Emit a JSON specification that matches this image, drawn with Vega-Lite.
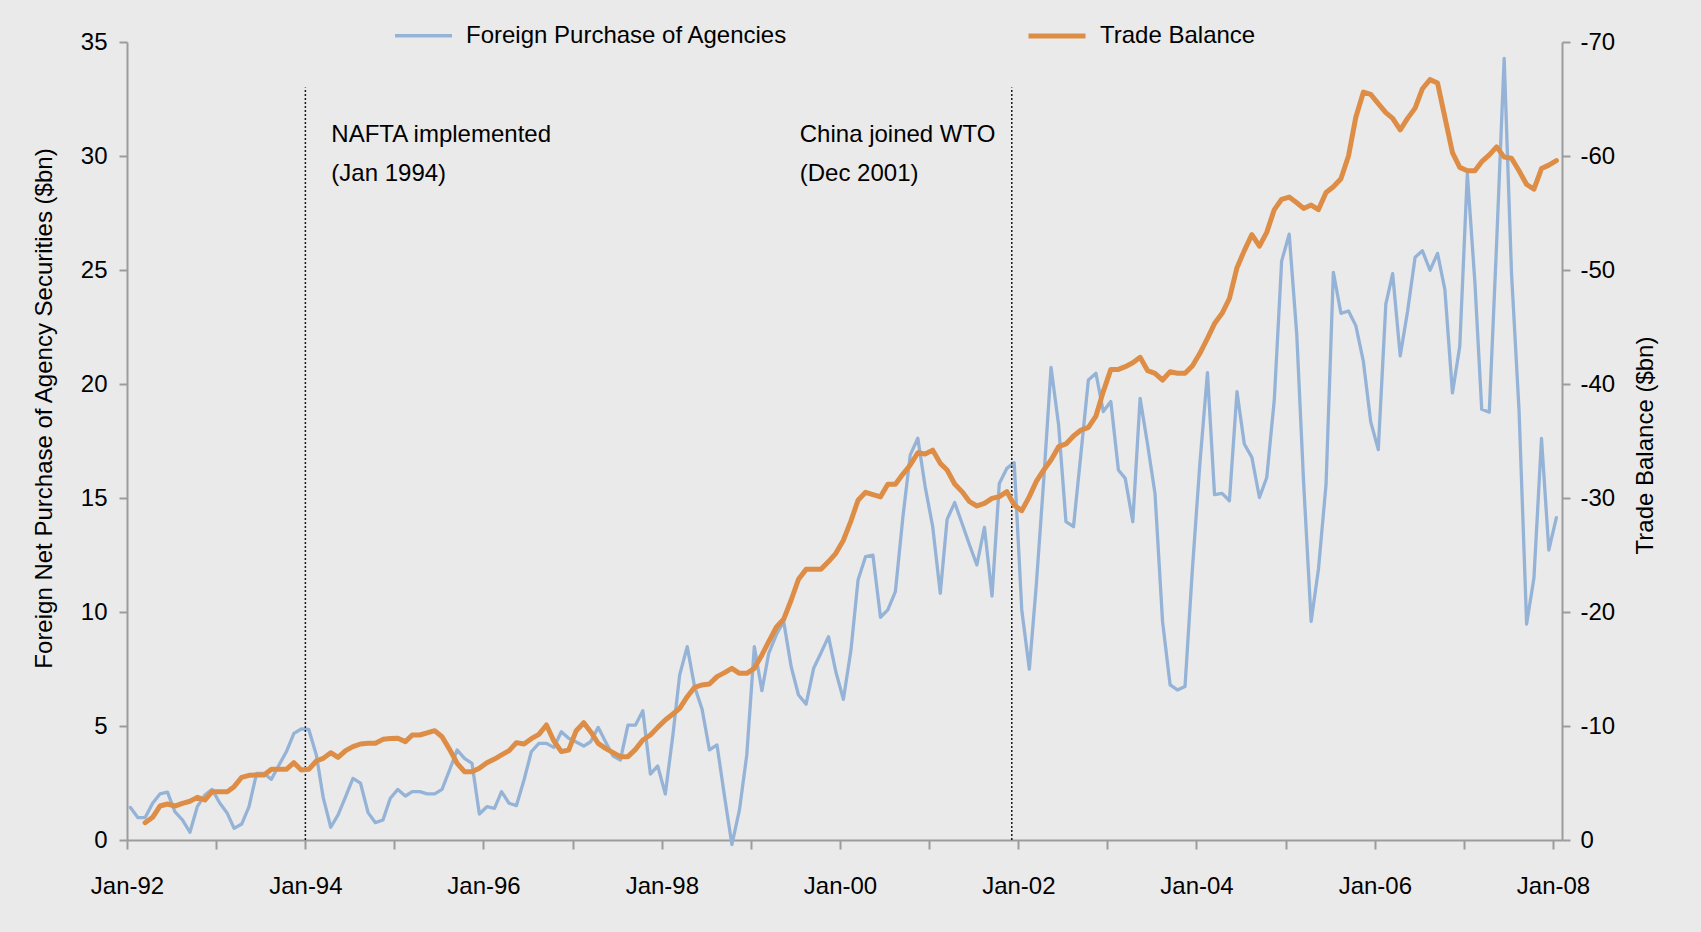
{
"$schema":"https://vega.github.io/schema/vega-lite/v6.json",
"width":1435,"height":798,
"autosize":{"type":"none"},
"padding":{"left":127,"top":42,"right":139,"bottom":92},
"background":"#EAEAEA",
"config":{
 "font":"Liberation Sans",
 "view":{"stroke":null},
 "axis":{"grid":false,"labelFont":"Liberation Sans","labelFontSize":24,"labelColor":"#000000","titleFont":"Liberation Sans","titleFontSize":24,"titleFontWeight":"normal","titleColor":"#000000","domainColor":"#9C9C9C","domainWidth":2,"tickColor":"#9C9C9C","tickWidth":2},
 "text":{"font":"Liberation Sans","fontSize":24,"color":"#000000"}
},
"data":{"values":[
{"date":"1992-01-15","agencies":1.43},
{"date":"1992-02-15","agencies":0.98},
{"date":"1992-03-15","agencies":0.98,"trade":-1.52},
{"date":"1992-04-15","agencies":1.61,"trade":-1.99},
{"date":"1992-05-15","agencies":2.02,"trade":-2.98},
{"date":"1992-06-15","agencies":2.1,"trade":-3.16},
{"date":"1992-07-15","agencies":1.24,"trade":-2.98},
{"date":"1992-08-15","agencies":0.88,"trade":-3.22},
{"date":"1992-09-15","agencies":0.34,"trade":-3.4},
{"date":"1992-10-15","agencies":1.46,"trade":-3.74},
{"date":"1992-11-15","agencies":1.97,"trade":-3.51},
{"date":"1992-12-15","agencies":2.22,"trade":-4.24},
{"date":"1993-01-15","agencies":1.62,"trade":-4.24},
{"date":"1993-02-15","agencies":1.17,"trade":-4.24},
{"date":"1993-03-15","agencies":0.51,"trade":-4.68},
{"date":"1993-04-15","agencies":0.7,"trade":-5.5},
{"date":"1993-05-15","agencies":1.46,"trade":-5.67},
{"date":"1993-06-15","agencies":2.92,"trade":-5.7},
{"date":"1993-07-15","agencies":2.92,"trade":-5.7},
{"date":"1993-08-15","agencies":2.66,"trade":-6.2},
{"date":"1993-09-15","agencies":3.29,"trade":-6.2},
{"date":"1993-10-15","agencies":3.87,"trade":-6.2},
{"date":"1993-11-15","agencies":4.68,"trade":-6.78},
{"date":"1993-12-15","agencies":4.87,"trade":-6.14},
{"date":"1994-01-15","agencies":4.85,"trade":-6.2},
{"date":"1994-02-15","agencies":3.73,"trade":-6.93},
{"date":"1994-03-15","agencies":1.87,"trade":-7.16},
{"date":"1994-04-15","agencies":0.56,"trade":-7.66},
{"date":"1994-05-15","agencies":1.1,"trade":-7.25},
{"date":"1994-06-15","agencies":1.9,"trade":-7.84},
{"date":"1994-07-15","agencies":2.7,"trade":-8.19},
{"date":"1994-08-15","agencies":2.49,"trade":-8.42},
{"date":"1994-09-15","agencies":1.2,"trade":-8.48},
{"date":"1994-10-15","agencies":0.76,"trade":-8.48},
{"date":"1994-11-15","agencies":0.88,"trade":-8.83},
{"date":"1994-12-15","agencies":1.83,"trade":-8.9},
{"date":"1995-01-15","agencies":2.22,"trade":-8.92},
{"date":"1995-02-15","agencies":1.93,"trade":-8.63},
{"date":"1995-03-15","agencies":2.12,"trade":-9.21},
{"date":"1995-04-15","agencies":2.12,"trade":-9.21},
{"date":"1995-05-15","agencies":2.02,"trade":-9.4},
{"date":"1995-06-15","agencies":2.02,"trade":-9.59},
{"date":"1995-07-15","agencies":2.22,"trade":-9.06},
{"date":"1995-08-15","agencies":3.07,"trade":-7.95},
{"date":"1995-09-15","agencies":3.95,"trade":-6.73},
{"date":"1995-10-15","agencies":3.58,"trade":-5.99},
{"date":"1995-11-15","agencies":3.36,"trade":-5.99},
{"date":"1995-12-15","agencies":1.14,"trade":-6.3},
{"date":"1996-01-15","agencies":1.46,"trade":-6.78},
{"date":"1996-02-15","agencies":1.39,"trade":-7.1},
{"date":"1996-03-15","agencies":2.12,"trade":-7.46},
{"date":"1996-04-15","agencies":1.61,"trade":-7.84},
{"date":"1996-05-15","agencies":1.51,"trade":-8.54},
{"date":"1996-06-15","agencies":2.63,"trade":-8.42},
{"date":"1996-07-15","agencies":3.87,"trade":-8.89},
{"date":"1996-08-15","agencies":4.24,"trade":-9.27},
{"date":"1996-09-15","agencies":4.24,"trade":-10.09},
{"date":"1996-10-15","agencies":4.06,"trade":-8.71},
{"date":"1996-11-15","agencies":4.75,"trade":-7.75},
{"date":"1996-12-15","agencies":4.46,"trade":-7.89},
{"date":"1997-01-15","agencies":4.3,"trade":-9.59},
{"date":"1997-02-15","agencies":4.12,"trade":-10.29},
{"date":"1997-03-15","agencies":4.31,"trade":-9.5},
{"date":"1997-04-15","agencies":4.94,"trade":-8.48},
{"date":"1997-05-15","agencies":4.31,"trade":-8.04},
{"date":"1997-06-15","agencies":3.68,"trade":-7.66},
{"date":"1997-07-15","agencies":3.51,"trade":-7.31},
{"date":"1997-08-15","agencies":5.04,"trade":-7.31},
{"date":"1997-09-15","agencies":5.04,"trade":-7.95},
{"date":"1997-10-15","agencies":5.67,"trade":-8.77},
{"date":"1997-11-15","agencies":2.89,"trade":-9.21},
{"date":"1997-12-15","agencies":3.25,"trade":-9.88},
{"date":"1998-01-15","agencies":2.02,"trade":-10.53},
{"date":"1998-02-15","agencies":4.58,"trade":-11.05},
{"date":"1998-03-15","agencies":7.24,"trade":-11.55},
{"date":"1998-04-15","agencies":8.48,"trade":-12.57},
{"date":"1998-05-15","agencies":6.73,"trade":-13.39},
{"date":"1998-06-15","agencies":5.73,"trade":-13.6},
{"date":"1998-07-15","agencies":3.95,"trade":-13.68},
{"date":"1998-08-15","agencies":4.17,"trade":-14.33},
{"date":"1998-09-15","agencies":1.9,"trade":-14.68},
{"date":"1998-10-15","agencies":-0.2,"trade":-15.06},
{"date":"1998-11-15","agencies":1.32,"trade":-14.62},
{"date":"1998-12-15","agencies":3.73,"trade":-14.62},
{"date":"1999-01-15","agencies":8.48,"trade":-15.06},
{"date":"1999-02-15","agencies":6.55,"trade":-16.23},
{"date":"1999-03-15","agencies":8.19,"trade":-17.4},
{"date":"1999-04-15","agencies":9.0,"trade":-18.66},
{"date":"1999-05-15","agencies":9.6,"trade":-19.36},
{"date":"1999-06-15","agencies":7.6,"trade":-21.05},
{"date":"1999-07-15","agencies":6.36,"trade":-22.87},
{"date":"1999-08-15","agencies":5.96,"trade":-23.74},
{"date":"1999-09-15","agencies":7.53,"trade":-23.74},
{"date":"1999-10-15","agencies":8.2,"trade":-23.74},
{"date":"1999-11-15","agencies":8.92,"trade":-24.42},
{"date":"1999-12-15","agencies":7.38,"trade":-25.15},
{"date":"2000-01-15","agencies":6.17,"trade":-26.3},
{"date":"2000-02-15","agencies":8.33,"trade":-28.0},
{"date":"2000-03-15","agencies":11.4,"trade":-29.8},
{"date":"2000-04-15","agencies":12.43,"trade":-30.5},
{"date":"2000-05-15","agencies":12.49,"trade":-30.3},
{"date":"2000-06-15","agencies":9.77,"trade":-30.1},
{"date":"2000-07-15","agencies":10.09,"trade":-31.2},
{"date":"2000-08-15","agencies":10.89,"trade":-31.2},
{"date":"2000-09-15","agencies":14.18,"trade":-32.1},
{"date":"2000-10-15","agencies":16.89,"trade":-32.9},
{"date":"2000-11-15","agencies":17.62,"trade":-33.97},
{"date":"2000-12-15","agencies":15.5,"trade":-33.86},
{"date":"2001-01-15","agencies":13.74,"trade":-34.2},
{"date":"2001-02-15","agencies":10.82,"trade":-33.04},
{"date":"2001-03-15","agencies":14.06,"trade":-32.46},
{"date":"2001-04-15","agencies":14.8,"trade":-31.23},
{"date":"2001-05-15","agencies":13.89,"trade":-30.56},
{"date":"2001-06-15","agencies":12.94,"trade":-29.68},
{"date":"2001-07-15","agencies":12.06,"trade":-29.3},
{"date":"2001-08-15","agencies":13.71,"trade":-29.53},
{"date":"2001-09-15","agencies":10.7,"trade":-29.97},
{"date":"2001-10-15","agencies":15.64,"trade":-30.12},
{"date":"2001-11-15","agencies":16.3,"trade":-30.56},
{"date":"2001-12-15","agencies":16.55,"trade":-29.39},
{"date":"2002-01-15","agencies":10.09,"trade":-28.89},
{"date":"2002-02-15","agencies":7.49,"trade":-30.12},
{"date":"2002-03-15","agencies":11.11,"trade":-31.43},
{"date":"2002-04-15","agencies":15.79,"trade":-32.46},
{"date":"2002-05-15","agencies":20.73,"trade":-33.33},
{"date":"2002-06-15","agencies":18.2,"trade":-34.5},
{"date":"2002-07-15","agencies":13.96,"trade":-34.74},
{"date":"2002-08-15","agencies":13.74,"trade":-35.44},
{"date":"2002-09-15","agencies":17.0,"trade":-35.96},
{"date":"2002-10-15","agencies":20.18,"trade":-36.2},
{"date":"2002-11-15","agencies":20.47,"trade":-37.19},
{"date":"2002-12-15","agencies":18.79,"trade":-39.33},
{"date":"2003-01-15","agencies":19.23,"trade":-41.28},
{"date":"2003-02-15","agencies":16.23,"trade":-41.28},
{"date":"2003-03-15","agencies":15.86,"trade":-41.52},
{"date":"2003-04-15","agencies":13.96,"trade":-41.87},
{"date":"2003-05-15","agencies":19.37,"trade":-42.34},
{"date":"2003-06-15","agencies":17.32,"trade":-41.17},
{"date":"2003-07-15","agencies":15.2,"trade":-40.94},
{"date":"2003-08-15","agencies":9.58,"trade":-40.35},
{"date":"2003-09-15","agencies":6.8,"trade":-41.08},
{"date":"2003-10-15","agencies":6.58,"trade":-40.94},
{"date":"2003-11-15","agencies":6.73,"trade":-40.94},
{"date":"2003-12-15","agencies":11.84,"trade":-41.58},
{"date":"2004-01-15","agencies":16.52,"trade":-42.69},
{"date":"2004-02-15","agencies":20.5,"trade":-44.0},
{"date":"2004-03-15","agencies":15.15,"trade":-45.3},
{"date":"2004-04-15","agencies":15.2,"trade":-46.2},
{"date":"2004-05-15","agencies":14.88,"trade":-47.5},
{"date":"2004-06-15","agencies":19.66,"trade":-50.2},
{"date":"2004-07-15","agencies":17.37,"trade":-51.7},
{"date":"2004-08-15","agencies":16.78,"trade":-53.1},
{"date":"2004-09-15","agencies":15.02,"trade":-52.1},
{"date":"2004-10-15","agencies":15.9,"trade":-53.3},
{"date":"2004-11-15","agencies":19.32,"trade":-55.3},
{"date":"2004-12-15","agencies":25.39,"trade":-56.2},
{"date":"2005-01-15","agencies":26.57,"trade":-56.4},
{"date":"2005-02-15","agencies":22.17,"trade":-55.9},
{"date":"2005-03-15","agencies":15.7,"trade":-55.4},
{"date":"2005-04-15","agencies":9.59,"trade":-55.7},
{"date":"2005-05-15","agencies":11.89,"trade":-55.3},
{"date":"2005-06-15","agencies":15.6,"trade":-56.8},
{"date":"2005-07-15","agencies":24.9,"trade":-57.3},
{"date":"2005-08-15","agencies":23.1,"trade":-58.0},
{"date":"2005-09-15","agencies":23.2,"trade":-60.0},
{"date":"2005-10-15","agencies":22.56,"trade":-63.4},
{"date":"2005-11-15","agencies":20.99,"trade":-65.6},
{"date":"2005-12-15","agencies":18.35,"trade":-65.4},
{"date":"2006-01-15","agencies":17.12,"trade":-64.6},
{"date":"2006-02-15","agencies":23.5,"trade":-63.8},
{"date":"2006-03-15","agencies":24.84,"trade":-63.3},
{"date":"2006-04-15","agencies":21.23,"trade":-62.3},
{"date":"2006-05-15","agencies":23.18,"trade":-63.3},
{"date":"2006-06-15","agencies":25.56,"trade":-64.2},
{"date":"2006-07-15","agencies":25.84,"trade":-65.9},
{"date":"2006-08-15","agencies":24.99,"trade":-66.7},
{"date":"2006-09-15","agencies":25.73,"trade":-66.4},
{"date":"2006-10-15","agencies":24.14,"trade":-63.4},
{"date":"2006-11-15","agencies":19.61,"trade":-60.3},
{"date":"2006-12-15","agencies":21.65,"trade":-59.0},
{"date":"2007-01-15","agencies":29.24,"trade":-58.7},
{"date":"2007-02-15","agencies":24.46,"trade":-58.7},
{"date":"2007-03-15","agencies":18.89,"trade":-59.5},
{"date":"2007-04-15","agencies":18.76,"trade":-60.1},
{"date":"2007-05-15","agencies":26.16,"trade":-60.8},
{"date":"2007-06-15","agencies":34.28,"trade":-59.9},
{"date":"2007-07-15","agencies":24.88,"trade":-59.8},
{"date":"2007-08-15","agencies":18.83,"trade":-58.7},
{"date":"2007-09-15","agencies":9.47,"trade":-57.5},
{"date":"2007-10-15","agencies":11.49,"trade":-57.1},
{"date":"2007-11-15","agencies":17.61,"trade":-58.9},
{"date":"2007-12-15","agencies":12.72,"trade":-59.2},
{"date":"2008-01-15","agencies":14.14,"trade":-59.6}
]},
"layer":[
 {"layer":[
  {"mark":{"type":"line","strokeJoin":"round","strokeCap":"round"},
   "encoding":{
    "x":{"field":"date","type":"temporal","scale":{"type":"utc","domain":[{"year":1992,"month":1,"date":1,"utc":true},{"year":2008,"month":2,"date":7,"utc":true}]},
      "axis":{"orient":"bottom","title":null,"tickSize":9,"labelPadding":25,"labelOverlap":false,"labelFlush":false,
        "values":[{"year":1992,"month":1,"date":1,"utc":true},{"year":1993,"month":1,"date":1,"utc":true},{"year":1994,"month":1,"date":1,"utc":true},{"year":1995,"month":1,"date":1,"utc":true},{"year":1996,"month":1,"date":1,"utc":true},{"year":1997,"month":1,"date":1,"utc":true},{"year":1998,"month":1,"date":1,"utc":true},{"year":1999,"month":1,"date":1,"utc":true},{"year":2000,"month":1,"date":1,"utc":true},{"year":2001,"month":1,"date":1,"utc":true},{"year":2002,"month":1,"date":1,"utc":true},{"year":2003,"month":1,"date":1,"utc":true},{"year":2004,"month":1,"date":1,"utc":true},{"year":2005,"month":1,"date":1,"utc":true},{"year":2006,"month":1,"date":1,"utc":true},{"year":2007,"month":1,"date":1,"utc":true},{"year":2008,"month":1,"date":1,"utc":true}],
        "labelExpr":"utcyear(datum.value) % 2 == 0 ? utcFormat(datum.value, '%b-%y') : ''"}},
    "y":{"field":"agencies","type":"quantitative","scale":{"domain":[0,35],"nice":false},
      "axis":{"orient":"left","values":[0,5,10,15,20,25,30,35],"tickSize":8,"labelPadding":12,"title":"Foreign Net Purchase of Agency Securities ($bn)","titlePadding":24,"titleY":366}},
    "color":{"datum":"Foreign Purchase of Agencies","type":"nominal",
      "scale":{"domain":["Foreign Purchase of Agencies","Trade Balance"],"range":["#95B3D7","#DD8D45"]},
      "legend":{"title":null,"orient":"none","legendX":266,"legendY":-37,"direction":"horizontal","symbolType":"stroke","symbolSize":3249,"labelFontSize":24,"labelFont":"Liberation Sans","labelColor":"#000000","labelOffset":12,"columnPadding":230,"padding":0,"labelLimit":0}},
    "strokeWidth":{"datum":"Foreign Purchase of Agencies","type":"nominal",
      "scale":{"type":"ordinal","domain":["Foreign Purchase of Agencies","Trade Balance"],"range":[3.3,5]},
      "legend":{"title":null,"orient":"none","legendX":266,"legendY":-37,"direction":"horizontal","symbolType":"stroke","symbolSize":3249,"labelFontSize":24,"labelFont":"Liberation Sans","labelColor":"#000000","labelOffset":12,"columnPadding":230,"padding":0,"labelLimit":0}}
   }},
  {"data":{"values":[{"date":"1994-01-01"},{"date":"2001-12-05"}]},
   "mark":{"type":"rule","strokeDash":[2,2],"color":"#1A1A1A","strokeWidth":1.5},
   "encoding":{
    "x":{"field":"date","type":"temporal","scale":{"type":"utc","domain":[{"year":1992,"month":1,"date":1,"utc":true},{"year":2008,"month":2,"date":7,"utc":true}]}},
    "y":{"datum":0,"type":"quantitative"},
    "y2":{"datum":33}
   }},
  {"data":{"values":[{"date":"1994-01-01","label":"NAFTA implemented\n(Jan 1994)"}]},
   "mark":{"type":"text","align":"left","baseline":"alphabetic","dx":26,"lineBreak":"\n","lineHeight":38.5},
   "encoding":{
    "x":{"field":"date","type":"temporal"},
    "y":{"datum":30.6,"type":"quantitative"},
    "text":{"field":"label"}
   }},
  {"data":{"values":[{"date":"2001-12-05","label":"China joined WTO\n(Dec 2001)"}]},
   "mark":{"type":"text","align":"left","baseline":"alphabetic","dx":-212,"lineBreak":"\n","lineHeight":38.5},
   "encoding":{
    "x":{"field":"date","type":"temporal"},
    "y":{"datum":30.6,"type":"quantitative"},
    "text":{"field":"label"}
   }}
 ]},
 {"mark":{"type":"line","strokeJoin":"round","strokeCap":"round"},
  "encoding":{
   "x":{"field":"date","type":"temporal","scale":{"type":"utc","domain":[{"year":1992,"month":1,"date":1,"utc":true},{"year":2008,"month":2,"date":7,"utc":true}]}},
   "y":{"field":"trade","type":"quantitative","scale":{"domain":[0,-70],"nice":false,"zero":false},
     "axis":{"orient":"right","values":[-70,-60,-50,-40,-30,-20,-10,0],"labelExpr":"datum.value == 0 ? '0' : '-' + abs(datum.value)","tickSize":8,"labelPadding":10,"title":"Trade Balance ($bn)","titleAngle":270,"titleBaseline":"top","titlePadding":19,"titleY":403}},
   "color":{"datum":"Trade Balance","type":"nominal",
      "scale":{"domain":["Foreign Purchase of Agencies","Trade Balance"],"range":["#95B3D7","#DD8D45"]},
      "legend":{"title":null,"orient":"none","legendX":266,"legendY":-37,"direction":"horizontal","symbolType":"stroke","symbolSize":3249,"labelFontSize":24,"labelFont":"Liberation Sans","labelColor":"#000000","labelOffset":12,"columnPadding":230,"padding":0,"labelLimit":0}},
   "strokeWidth":{"datum":"Trade Balance","type":"nominal",
      "scale":{"type":"ordinal","domain":["Foreign Purchase of Agencies","Trade Balance"],"range":[3.3,5]},
      "legend":{"title":null,"orient":"none","legendX":266,"legendY":-37,"direction":"horizontal","symbolType":"stroke","symbolSize":3249,"labelFontSize":24,"labelFont":"Liberation Sans","labelColor":"#000000","labelOffset":12,"columnPadding":230,"padding":0,"labelLimit":0}}
  }}
],
"resolve":{"scale":{"y":"independent"}}
}
